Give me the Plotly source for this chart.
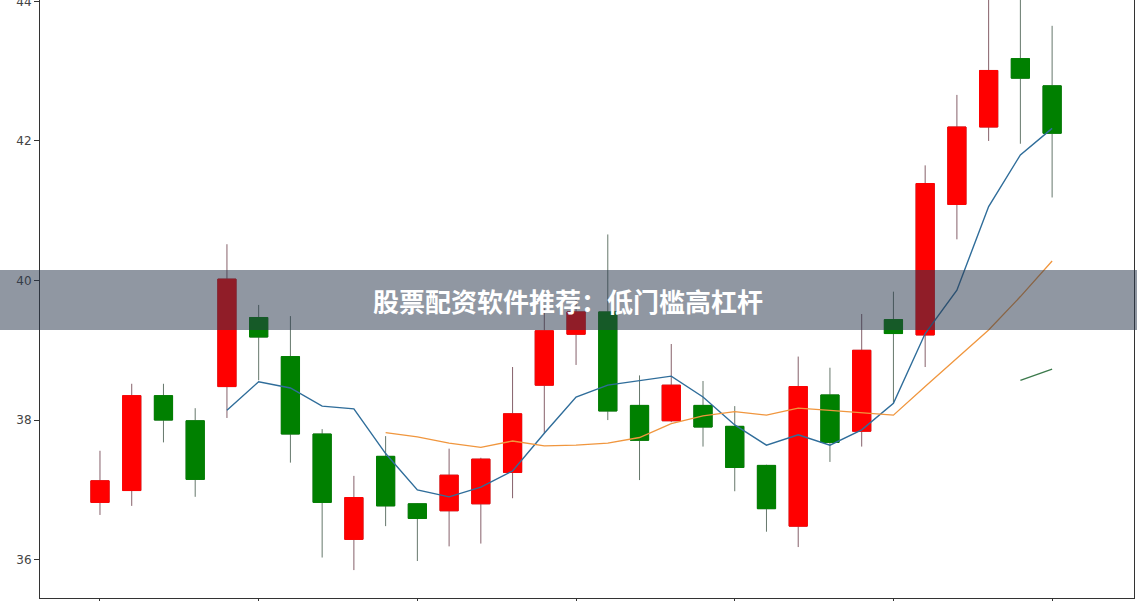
import plotly.graph_objects as go

# candle data (index 0..30)
days = list(range(31))
opens = [36.82, 36.99, 38.35, 37.99, 38.48, 39.47, 38.91, 37.80, 36.29, 37.48,
         36.80, 36.70, 36.80, 37.25, 38.50, 39.23, 39.55, 38.21, 37.99, 38.21,
         37.91, 37.35, 36.48, 38.36, 37.84, 39.44, 39.22, 41.09, 42.20, 43.18, 42.79]
highs = [37.56, 38.52, 38.52, 38.17, 40.52, 39.65, 39.49, 37.87, 37.20, 37.77,
         36.81, 37.59, 37.46, 38.76, 39.60, 39.75, 40.66, 38.64, 39.09, 38.56,
         38.20, 37.36, 38.91, 38.75, 39.52, 39.84, 41.65, 42.66, 44.30, 44.20, 43.65]
lows = [36.64, 36.77, 37.68, 36.90, 38.03, 38.57, 37.39, 36.03, 35.85, 36.48,
        35.98, 36.19, 36.23, 36.88, 37.81, 38.79, 38.00, 37.14, 37.97, 37.62,
        36.98, 36.40, 36.18, 37.40, 37.62, 38.24, 38.76, 40.59, 42.00, 41.96, 41.19]
closes = [37.13, 38.35, 38.00, 37.15, 40.02, 39.19, 37.80, 36.82, 36.89, 36.77,
          36.59, 37.21, 37.44, 38.09, 39.28, 39.55, 38.13, 37.71, 38.50, 37.90,
          37.32, 36.73, 38.48, 37.68, 39.00, 39.24, 41.39, 42.20, 43.01, 42.90, 42.11]

ma5 = [None, None, None, None, 38.14, 38.55, 38.46, 38.20, 38.16, 37.52,
       37.00, 36.90, 37.04, 37.27, 37.81, 38.33, 38.50, 38.56, 38.63, 38.33,
       37.93, 37.64, 37.79, 37.64, 37.86, 38.24, 39.24, 39.86, 41.06, 41.80, 42.18]
ma10 = [None] * 9 + [37.82, 37.76, 37.67, 37.61, 37.70, 37.63, 37.64, 37.67, 37.75,
                     37.95, 38.06, 38.12, 38.07, 38.17, 38.14, 38.10, 38.07, 38.48,
                     38.88, 39.29, 39.77, 40.28]
ma30 = [None] * 29 + [38.57, 38.73]

banner_text = "股票配资软件推荐：低门槛高杠杆"
y_ticks = [36, 38, 40, 42, 44]
x_ticks = [0, 5, 10, 15, 20, 25, 30]

body_hi = [max(o, c) for o, c in zip(opens, closes)]
body_lo = [min(o, c) for o, c in zip(opens, closes)]

fig = go.Figure()

# wicks
fig.add_trace(go.Candlestick(
    x=days, open=opens, high=highs, low=lows, close=closes,
    increasing=dict(line=dict(color="#86606a", width=1), fillcolor="#ff0000"),
    decreasing=dict(line=dict(color="#66786c", width=1), fillcolor="#008000"),
    whiskerwidth=0, showlegend=False, hoverinfo="skip"))
# bodies
fig.add_trace(go.Candlestick(
    x=days, open=opens, high=body_hi, low=body_lo, close=closes,
    increasing=dict(line=dict(color="#ff0000", width=1), fillcolor="#ff0000"),
    decreasing=dict(line=dict(color="#008000", width=1), fillcolor="#008000"),
    whiskerwidth=0, showlegend=False))

fig.add_trace(go.Scatter(x=days, y=ma5, mode="lines",
                         line=dict(color="#2f6d9a", width=1.4), showlegend=False))
fig.add_trace(go.Scatter(x=days, y=ma10, mode="lines",
                         line=dict(color="#f0963e", width=1.3), showlegend=False))
fig.add_trace(go.Scatter(x=days, y=ma30, mode="lines",
                         line=dict(color="#3c7a4c", width=1.4), showlegend=False))

# grey banner across the middle
fig.add_shape(type="rect", xref="paper", yref="paper",
              x0=-0.06, x1=1.03, y0=0.4482, y1=0.5485,
              fillcolor="rgba(42,56,76,0.52)", line=dict(width=0), layer="above")
fig.add_annotation(text="<b>" + banner_text + "</b>", xref="paper", yref="paper",
                   x=0.4826, y=0.4983, showarrow=False,
                   font=dict(family="Noto Sans CJK SC", size=26, color="white"))

fig.update_layout(
    width=1137, height=601,
    margin=dict(l=40, r=3, t=0, b=3),
    paper_bgcolor="white", plot_bgcolor="white",
    boxgap=0.18,
    font=dict(family="DejaVu Sans", size=12, color="#444"),
    xaxis=dict(range=[-1.89, 32.58], rangeslider=dict(visible=False), automargin=False,
               tickvals=x_ticks, showticklabels=False, ticks="outside", ticklen=4,
               tickcolor="#333", showgrid=False, zeroline=False,
               showline=True, linecolor="#333", linewidth=1, mirror=False),
    yaxis=dict(range=[35.45, 44.02], tickvals=y_ticks, ticks="outside", ticklen=5,
               automargin=False, ticklabeloverflow="allow",
               tickcolor="#333", showgrid=False, zeroline=False,
               showline=True, linecolor="#333", linewidth=1, mirror=True),
)

# page body has a default 8px margin; drop it so the figure sits at the corner
fig.write_html("out.html", config={"displayModeBar": False},
               post_script="document.body.style.margin='0';")
